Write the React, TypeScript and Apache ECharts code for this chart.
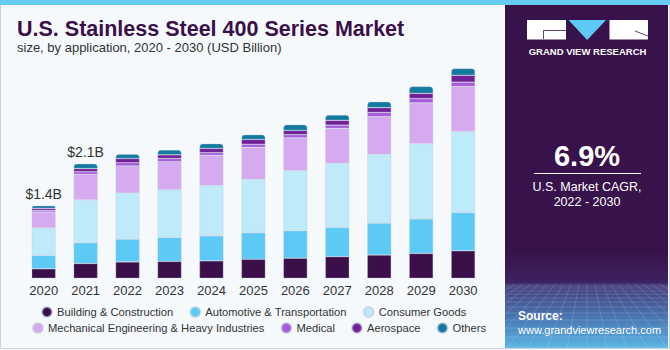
import React, { useEffect, useRef } from 'react';
import * as echarts from 'echarts';

const years = ['2020', '2021', '2022', '2023', '2024', '2025', '2026', '2027', '2028', '2029', '2030'];
const building = [0.18, 0.28, 0.31, 0.32, 0.33, 0.36, 0.38, 0.41, 0.44, 0.47, 0.52];
const automotive = [0.25, 0.39, 0.43, 0.45, 0.47, 0.5, 0.52, 0.55, 0.6, 0.65, 0.72];
const consumer = [0.52, 0.81, 0.87, 0.9, 0.95, 1.01, 1.13, 1.21, 1.3, 1.42, 1.53];
const mechanical = [0.3, 0.48, 0.51, 0.53, 0.57, 0.6, 0.62, 0.66, 0.71, 0.77, 0.85];
const medical = [0.03, 0.05, 0.06, 0.06, 0.05, 0.06, 0.06, 0.06, 0.08, 0.08, 0.08];
const aerospace = [0.04, 0.06, 0.08, 0.07, 0.08, 0.09, 0.08, 0.09, 0.09, 0.1, 0.13];
const others = [0.05, 0.09, 0.08, 0.09, 0.09, 0.09, 0.11, 0.1, 0.11, 0.13, 0.13];
const totalLabels = ['$1.4B', '$2.1B', '', '', '', '', '', '', '', '', ''];

const seriesNames = [
  'Building & Construction',
  'Automotive & Transportation',
  'Consumer Goods',
  'Mechanical Engineering & Heavy Industries',
  'Medical',
  'Aerospace',
  'Others',
];
const seriesData = [building, automotive, consumer, mechanical, medical, aerospace, others];
const seriesColors = ['#3b0f4a', '#5ccaf5', '#bfeafa', '#d6aaee', '#a859dc', '#702096', '#147aa0'];

const FONT = '"Liberation Sans", Arial, sans-serif';

export default function App() {
  const ref = useRef<HTMLDivElement>(null);
  useEffect(() => {
    const chart = echarts.init(ref.current!, null, { renderer: 'svg' });

    const series: any[] = seriesNames.map((name, si) => {
      const isTop = si === seriesNames.length - 1;
      return {
        name,
        type: 'bar',
        stack: 'total',
        barWidth: 24,
        itemStyle: {
          color: seriesColors[si],
          borderColor: 'rgba(190,200,220,0.55)',
          borderWidth: 0.6,
          borderRadius: isTop ? [3, 3, 0, 0] : 0,
        },
        data: seriesData[si].map((v, i) =>
          isTop && totalLabels[i]
            ? {
                value: v,
                label: {
                  show: true,
                  position: 'top',
                  distance: 5,
                  formatter: totalLabels[i],
                  fontSize: 14,
                  color: '#333333',
                  fontFamily: FONT,
                },
              }
            : v
        ),
      };
    });

    // decorative grid in the bottom of the right panel
    const deco: any[] = [];
    const hy = [286, 288, 291, 294, 298, 302, 307, 313, 320, 328, 337, 347];
    hy.forEach((y) =>
      deco.push({
        type: 'line',
        shape: { x1: 506, y1: y, x2: 668, y2: y },
        style: { stroke: 'rgba(255,255,255,0.18)', lineWidth: 0.8 },
        silent: true,
      })
    );
    for (let k = -9; k <= 9; k++) {
      deco.push({
        type: 'line',
        shape: { x1: 587 + k * 8, y1: 284, x2: 587 + k * 20, y2: 348 },
        style: { stroke: 'rgba(255,255,255,0.18)', lineWidth: 0.8 },
        silent: true,
      });
    }

    const legendText = { fontSize: 11.2, color: '#333333', fontFamily: FONT };

    const option: any = {
      animation: false,
      backgroundColor: '#f5f9fc',
      grid: { left: 22.7, right: 185.9, top: 39.8, bottom: 71.7, containLabel: false },
      xAxis: {
        type: 'category',
        data: years,
        axisLine: { show: false },
        axisTick: { show: false },
        axisLabel: { color: '#333333', fontSize: 13, margin: 6, fontFamily: FONT },
      },
      yAxis: {
        type: 'value',
        min: 0,
        max: 4.5,
        show: false,
        splitLine: { show: false },
      },
      legend: [
        {
          data: seriesNames.slice(0, 3),
          left: 39,
          top: 304,
          padding: 2,
          icon: 'circle',
          itemWidth: 10,
          itemHeight: 10,
          itemGap: 16,
          textStyle: legendText,
          selectedMode: false,
        },
        {
          data: seriesNames.slice(3),
          left: 30,
          top: 320,
          padding: 2,
          icon: 'circle',
          itemWidth: 10,
          itemHeight: 10,
          itemGap: 16,
          textStyle: legendText,
          selectedMode: false,
        },
      ],
      series,
      graphic: [
        {
          type: 'rect',
          shape: { x: 0.5, y: 0.5, width: 669, height: 348 },
          style: { fill: 'none', stroke: '#cfd3d6', lineWidth: 1 },
          silent: true,
        },
        {
          type: 'rect',
          shape: { x: 0, y: 0, width: 670, height: 5 },
          style: { fill: '#66ccf2' },
          silent: true,
        },
        {
          type: 'rect',
          shape: { x: 505, y: 5, width: 163, height: 343 },
          style: { fill: '#38124a' },
          silent: true,
        },
        {
          type: 'rect',
          shape: { x: 505, y: 250, width: 163, height: 98 },
          style: {
            fill: new echarts.graphic.LinearGradient(0, 0, 0, 1, [
              { offset: 0, color: '#38124a' },
              { offset: 0.33, color: '#3d2260' },
              { offset: 0.35, color: '#443a7a' },
              { offset: 0.7, color: '#4a78b5' },
              { offset: 1, color: '#5ab6e6' },
            ]),
          },
          silent: true,
        },
        ...deco,
        {
          type: 'rect',
          shape: { x: 527, y: 20, width: 39, height: 19.5 },
          style: { fill: '#ffffff' },
          silent: true,
        },
        {
          type: 'polyline',
          shape: { points: [[543.5, 39], [543.5, 30.5], [566, 30.5]] },
          style: { stroke: '#38124a', lineWidth: 0.8, fill: 'none' },
          silent: true,
        },
        {
          type: 'polygon',
          shape: { points: [[568.5, 20], [606, 20], [587.2, 40]] },
          style: { fill: '#5ccaf5' },
          silent: true,
        },
        {
          type: 'rect',
          shape: { x: 609.5, y: 20, width: 38.5, height: 19.5 },
          style: { fill: '#ffffff' },
          silent: true,
        },
        {
          type: 'polyline',
          shape: { points: [[635, 31], [648, 36]] },
          style: { stroke: '#38124a', lineWidth: 0.8, fill: 'none' },
          silent: true,
        },
        {
          type: 'text',
          x: 587.5,
          y: 51,
          style: {
            text: 'GRAND VIEW RESEARCH',
            fill: '#ffffff',
            fontSize: 9.5,
            fontWeight: 'bold',
            fontFamily: FONT,
            align: 'center',
            verticalAlign: 'middle',
          },
          silent: true,
        },
        {
          type: 'text',
          x: 587,
          y: 156,
          style: {
            text: '6.9%',
            fill: '#ffffff',
            fontSize: 29,
            fontWeight: 'bold',
            fontFamily: FONT,
            align: 'center',
            verticalAlign: 'middle',
          },
          silent: true,
        },
        {
          type: 'line',
          shape: { x1: 534, y1: 173.5, x2: 641, y2: 173.5 },
          style: { stroke: '#ffffff', lineWidth: 1 },
          silent: true,
        },
        {
          type: 'text',
          x: 587,
          y: 187,
          style: {
            text: 'U.S. Market CAGR,',
            fill: '#ffffff',
            fontSize: 12.5,
            fontFamily: FONT,
            align: 'center',
            verticalAlign: 'middle',
          },
          silent: true,
        },
        {
          type: 'text',
          x: 587,
          y: 201.5,
          style: {
            text: '2022 - 2030',
            fill: '#ffffff',
            fontSize: 12.5,
            fontFamily: FONT,
            align: 'center',
            verticalAlign: 'middle',
          },
          silent: true,
        },
        {
          type: 'text',
          x: 518,
          y: 315.5,
          style: {
            text: 'Source:',
            fill: '#ffffff',
            fontSize: 12,
            fontWeight: 'bold',
            fontFamily: FONT,
            align: 'left',
            verticalAlign: 'middle',
          },
          silent: true,
        },
        {
          type: 'text',
          x: 518,
          y: 330,
          style: {
            text: 'www.grandviewresearch.com',
            fill: '#ffffff',
            fontSize: 11,
            fontFamily: FONT,
            align: 'left',
            verticalAlign: 'middle',
          },
          silent: true,
        },
        {
          type: 'text',
          x: 17,
          y: 28.5,
          style: {
            text: 'U.S. Stainless Steel 400 Series Market',
            fill: '#3b0f4a',
            fontSize: 21.5,
            fontWeight: 'bold',
            fontFamily: FONT,
            align: 'left',
            verticalAlign: 'middle',
          },
          silent: true,
        },
        {
          type: 'text',
          x: 17,
          y: 47.5,
          style: {
            text: 'size, by application, 2020 - 2030 (USD Billion)',
            fill: '#333333',
            fontSize: 13,
            fontFamily: FONT,
            align: 'left',
            verticalAlign: 'middle',
          },
          silent: true,
        },
      ],
    };

    chart.setOption(option);
    return () => chart.dispose();
  }, []);

  return <div ref={ref} style={{ position: 'fixed', left: 0, top: 0, width: 670, height: 350 }} />;
}
